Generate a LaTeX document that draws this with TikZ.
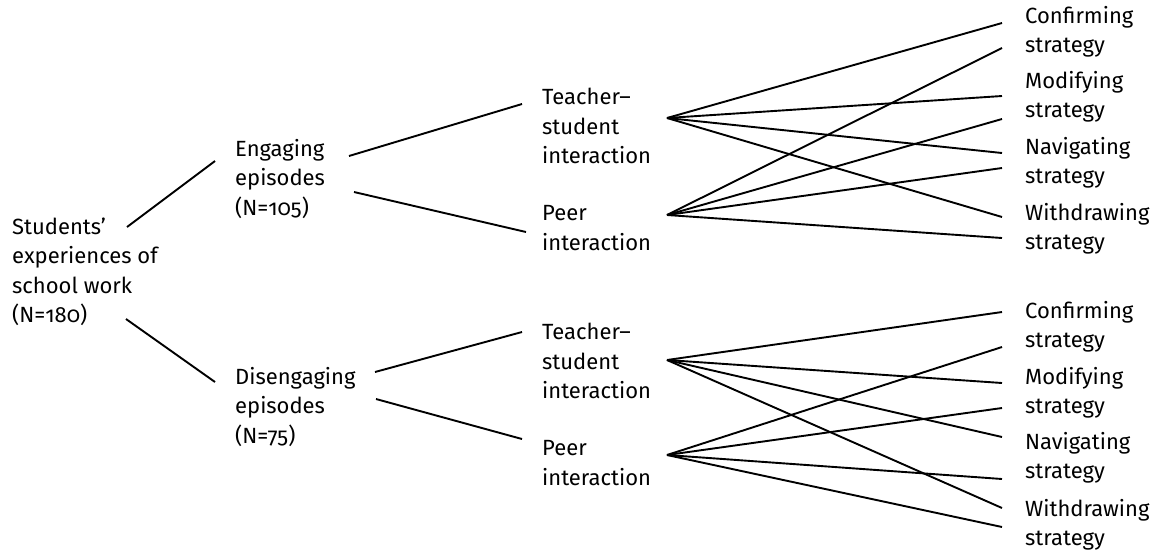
\documentclass[tikz,border=0pt]{standalone}
\usepackage{fontspec}
\setmainfont[Numbers=OldStyle]{Fira Sans}
\begin{document}
\begin{tikzpicture}[x=1pt,y=-1pt]

    \tikzstyle{lbl} = [anchor=west, inner sep=0pt, align=left,
                       font=\fontsize{22}{29.5}\selectfont]
    \tikzstyle{edge} = [line width=1.9pt]

    \useasboundingbox (0,0) rectangle (1162,558);

    % Labels
    \node[lbl] (root) at (12,272) {Students’\\experiences of\\school work\\(N=180)};
    \node[lbl] (eng) at (235,179) {Engaging\\episodes\\(N=105)};
    \node[lbl] (dis) at (235,407) {Disengaging\\episodes\\(N=75)};

    \node[lbl] (ts1) at (542,126) {Teacher–\\student\\interaction};
    \node[lbl] (peer1) at (542,228) {Peer\\interaction};
    \node[lbl] (ts2) at (542,361) {Teacher–\\student\\interaction};
    \node[lbl] (peer2) at (542,463) {Peer\\interaction};

    \node[lbl] (conf1) at (1025,32) {Confirming\\strategy};
    \node[lbl] (mod1) at (1025,97) {Modifying\\strategy};
    \node[lbl] (nav1) at (1025,163) {Navigating\\strategy};
    \node[lbl] (wd1) at (1025,229) {Withdrawing\\strategy};
    \node[lbl] (conf2) at (1025,327) {Confirming\\strategy};
    \node[lbl] (mod2) at (1025,393) {Modifying\\strategy};
    \node[lbl] (nav2) at (1025,458) {Navigating\\strategy};
    \node[lbl] (wd2) at (1025,525) {Withdrawing\\strategy};

    % Line ends
    \coordinate (root-a) at (127,227);
    \coordinate (root-b) at (126,319);
    \coordinate (eng-in) at (215,161);
    \coordinate (eng-a) at (349,156);
    \coordinate (eng-b) at (354,192);
    \coordinate (dis-in) at (215,382);
    \coordinate (dis-a) at (375,372);
    \coordinate (dis-b) at (376,399);

    \coordinate (ts1-in) at (522,104);
    \coordinate (peer1-in) at (526,232);
    \coordinate (ts2-in) at (522,332);
    \coordinate (peer2-in) at (522,439);

    \coordinate (ts1-hub) at (667,118);
    \coordinate (peer1-hub) at (667,215);
    \coordinate (ts2-hub) at (667,360);
    \coordinate (peer2-hub) at (667,455);

    \coordinate (conf1-a) at (1002,23);
    \coordinate (conf1-b) at (1002,48);
    \coordinate (mod1-a) at (1002,96);
    \coordinate (mod1-b) at (1002,119);
    \coordinate (nav1-a) at (1002,153);
    \coordinate (nav1-b) at (1002,168);
    \coordinate (wd1-a) at (1002,217);
    \coordinate (wd1-b) at (1002,238);

    \coordinate (conf2-a) at (1002,312);
    \coordinate (conf2-b) at (1002,347);
    \coordinate (mod2-a) at (1002,383);
    \coordinate (mod2-b) at (1002,408);
    \coordinate (nav2-a) at (1002,437);
    \coordinate (nav2-b) at (1002,479);
    \coordinate (wd2-a) at (1002,508);
    \coordinate (wd2-b) at (1002,527);

    % Root to episodes
    \draw[edge] (root-a) -- (eng-in);
    \draw[edge] (root-b) -- (dis-in);

    % Episodes to interaction
    \draw[edge] (eng-a) -- (ts1-in);
    \draw[edge] (eng-b) -- (peer1-in);
    \draw[edge] (dis-a) -- (ts2-in);
    \draw[edge] (dis-b) -- (peer2-in);

    % Engaging: interaction to strategy
    \draw[edge] (ts1-hub) -- (conf1-a);
    \draw[edge] (ts1-hub) -- (mod1-a);
    \draw[edge] (ts1-hub) -- (nav1-a);
    \draw[edge] (ts1-hub) -- (wd1-a);
    \draw[edge] (peer1-hub) -- (conf1-b);
    \draw[edge] (peer1-hub) -- (mod1-b);
    \draw[edge] (peer1-hub) -- (nav1-b);
    \draw[edge] (peer1-hub) -- (wd1-b);

    % Disengaging: interaction to strategy
    \draw[edge] (ts2-hub) -- (conf2-a);
    \draw[edge] (ts2-hub) -- (mod2-a);
    \draw[edge] (ts2-hub) -- (nav2-a);
    \draw[edge] (ts2-hub) -- (wd2-a);
    \draw[edge] (peer2-hub) -- (conf2-b);
    \draw[edge] (peer2-hub) -- (mod2-b);
    \draw[edge] (peer2-hub) -- (nav2-b);
    \draw[edge] (peer2-hub) -- (wd2-b);

\end{tikzpicture}
\end{document}
